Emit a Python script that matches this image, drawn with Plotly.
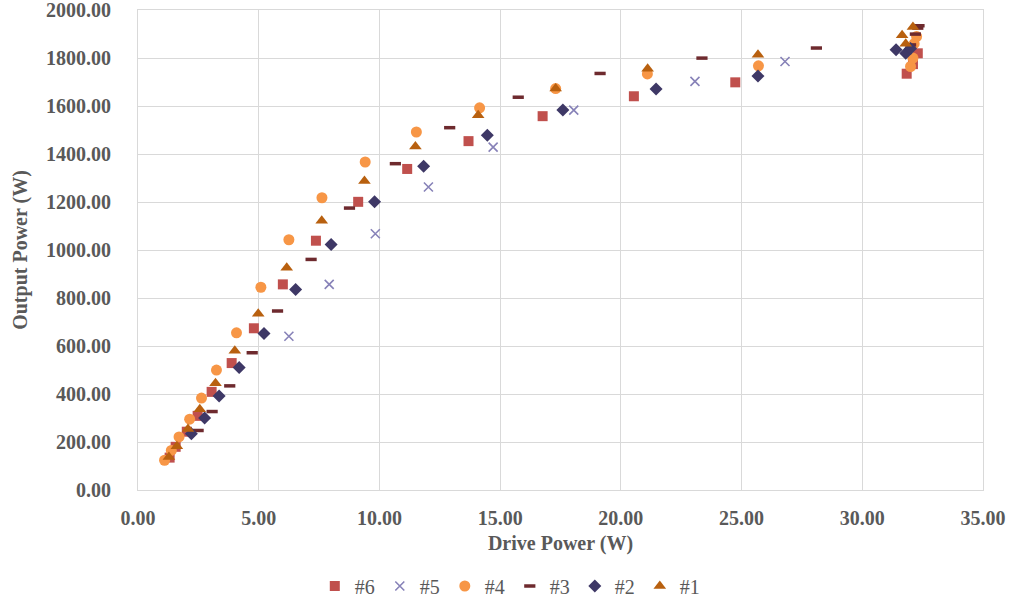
import plotly.graph_objects as go

# ---- data ----
s6_x = [1.31, 1.56, 2.02, 2.47, 3.05, 3.88, 4.80, 6.00, 7.37, 9.12, 11.15, 13.69, 16.76, 20.54, 24.74, 31.84, 32.10, 32.30]
s6_y = [135, 180, 243, 309, 409, 529, 674, 857, 1039, 1201, 1338, 1454, 1558, 1641, 1699, 1735, 1775, 1820]

s5_x = [6.25, 7.92, 9.83, 12.03, 14.71, 18.05, 23.07, 26.80]
s5_y = [641, 857, 1068, 1263, 1429, 1583, 1703, 1786]

s4_x = [1.10, 1.38, 1.70, 2.14, 2.63, 3.25, 4.08, 5.09, 6.25, 7.62, 9.41, 11.53, 14.15, 17.30, 21.10, 25.70, 32.00, 32.10, 32.15, 32.25]
s4_y = [124, 165, 221, 295, 383, 500, 655, 845, 1043, 1218, 1367, 1492, 1593, 1673, 1734, 1768, 1765, 1800, 1860, 1890]

s3_x = [2.49, 3.07, 3.80, 4.73, 5.78, 7.17, 8.76, 10.66, 12.91, 15.75, 19.14, 23.36, 28.10, 32.00, 32.20, 32.30, 32.35]
s3_y = [248, 327, 434, 572, 746, 961, 1175, 1360, 1510, 1637, 1736, 1800, 1842, 1855, 1900, 1925, 1935]

s2_x = [2.21, 2.76, 3.36, 4.19, 5.22, 6.53, 8.00, 9.80, 11.83, 14.47, 17.60, 21.46, 25.68, 31.40, 31.80, 32.00]
s2_y = [234, 300, 392, 511, 652, 836, 1023, 1201, 1349, 1478, 1584, 1671, 1725, 1835, 1820, 1840]

s1_x = [1.28, 1.61, 2.07, 2.56, 3.21, 4.01, 4.98, 6.16, 7.61, 9.38, 11.49, 14.09, 17.30, 21.11, 25.68, 31.65, 31.80, 32.10]
s1_y = [138, 182, 254, 337, 445, 580, 735, 926, 1122, 1288, 1432, 1562, 1673, 1756, 1814, 1895, 1860, 1930]

x_ticks = [0, 5, 10, 15, 20, 25, 30, 35]
y_ticks = [0, 200, 400, 600, 800, 1000, 1200, 1400, 1600, 1800, 2000]

GRID = "#D9D9D9"
TXT = "#595959"
FONT = "Liberation Serif"

fig = go.Figure()
fig.add_trace(go.Scatter(x=s6_x, y=s6_y, mode="markers", name="#6",
                         marker=dict(symbol="square", size=10, color="#C0504D")))
fig.add_trace(go.Scatter(x=s5_x, y=s5_y, mode="markers", name="#5",
                         marker=dict(symbol="x-thin", size=9, color="#8782B8",
                                     line=dict(width=1.6, color="#8782B8"))))
fig.add_trace(go.Scatter(x=s4_x, y=s4_y, mode="markers", name="#4",
                         marker=dict(symbol="circle", size=11, color="#F79646")))
fig.add_trace(go.Scatter(x=s3_x, y=s3_y, mode="markers", name="#3",
                         marker=dict(symbol="line-ew", size=8, color="#6E2A2E",
                                     line=dict(width=3.5, color="#6E2A2E"))))
fig.add_trace(go.Scatter(x=s2_x, y=s2_y, mode="markers", name="#2",
                         marker=dict(symbol="diamond", size=10, color="#3E3866")))
fig.add_trace(go.Scatter(x=s1_x, y=s1_y, mode="markers", name="#1",
                         marker=dict(symbol="triangle-up", size=11, color="#B8600F")))

fig.update_layout(
    width=1013, height=615,
    margin=dict(l=138, r=30, t=10, b=111),
    paper_bgcolor="white", plot_bgcolor="white",
    font=dict(family=FONT, color=TXT, size=18),
    showlegend=True,
    legend=dict(orientation="h", x=0.44, xanchor="center", y=-0.2, yanchor="middle",
                font=dict(family=FONT, size=20, color=TXT), itemwidth=30,
                tracegroupgap=0, traceorder="normal"),
    xaxis=dict(range=[0, 35.001], tickvals=x_ticks, tickformat=".2f",
               showgrid=True, gridcolor=GRID, gridwidth=1, automargin=False,
               showline=True, linecolor=GRID, mirror=True, zeroline=False,
               ticks="", ticklabelstandoff=10, ticklabeloverflow="allow",
               tickfont=dict(family=FONT, size=20, color=TXT, weight="bold"),
               title=dict(text="<b>Drive Power (W)</b>", standoff=7,
                          font=dict(family=FONT, size=20, color=TXT))),
    yaxis=dict(range=[0, 2000.5], tickvals=y_ticks, tickformat=".2f",
               showgrid=True, gridcolor=GRID, gridwidth=1, automargin=False,
               showline=True, linecolor=GRID, mirror=True, zeroline=False,
               ticks="", ticklabelstandoff=22, ticklabeloverflow="allow",
               tickfont=dict(family=FONT, size=20, color=TXT, weight="bold"),
               title=dict(text="<b>Output Power (W)</b>", standoff=13,
                          font=dict(family=FONT, size=20, color=TXT))),
)

fig.write_html(
    "out.html",
    config={"displayModeBar": False},
    post_script=(
        "document.documentElement.style.margin='0';"
        "document.documentElement.style.padding='0';"
        "document.documentElement.style.overflow='hidden';"
        "document.body.style.margin='0';"
        "document.body.style.padding='0';"
        "document.body.style.overflow='hidden';"
    ),
)
